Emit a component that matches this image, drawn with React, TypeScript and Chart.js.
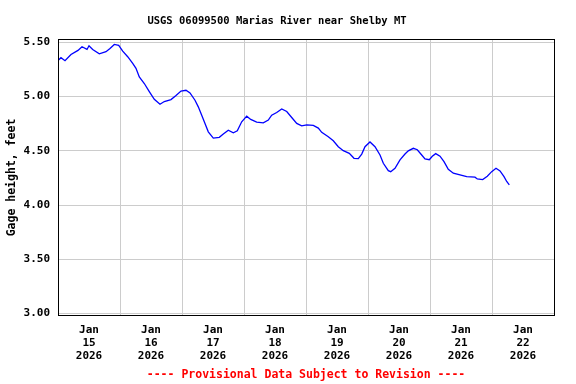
import { useEffect, useRef } from "react";
import { Chart, registerables } from "chart.js";

Chart.register(...registerables);

// Hours since Jan 15 2026 00:00 (local)
const hours = [
  0, 1.16, 2.71, 5.03, 7.74, 9.29, 11.23, 12.0, 13.43, 15.99, 18.58, 20.13, 21.79, 23.5,
  25.05, 26.98, 28.92, 30.19, 31.47, 33.41, 35.34, 37.28, 39.48, 41.15, 43.74, 45.68, 47.61,
  49.55, 51.1, 53.03, 54.31, 55.63, 56.9, 58.18, 60.12, 62.44, 63.99, 65.92, 67.86, 69.41,
  71.11, 73.05, 74.6, 76.92, 79.47, 81.41, 82.72, 84.66, 86.6, 88.54, 90.47, 92.41, 94.34,
  96.28, 98.83, 100.77, 102.08, 104.63, 106.57, 108.5, 110.44, 112.76, 114.58, 116.25,
  117.57, 118.84, 120.77, 122.71, 124.65, 125.93, 127.86, 128.79, 130.45, 132.39, 134.32,
  135.6, 137.54, 139.08, 140.79, 142.06, 143.73, 144.89, 146.21, 147.87, 149.42, 151.08,
  153.02, 155.61, 158.21, 161.42, 162.31, 164.4, 166.18, 167.88, 169.55, 171.1, 172.65,
  173.69, 174.7,
];

const gageFeet = [
  5.333, 5.358, 5.33, 5.388, 5.425, 5.459, 5.434, 5.468, 5.434, 5.394, 5.413, 5.443, 5.48, 5.471,
  5.418, 5.367, 5.305, 5.26, 5.18, 5.12, 5.046, 4.975, 4.929, 4.954, 4.972, 5.009, 5.05,
  5.058, 5.033, 4.966, 4.905, 4.828, 4.752, 4.675, 4.617, 4.624, 4.654, 4.69, 4.666, 4.684,
  4.767, 4.819, 4.789, 4.764, 4.758, 4.783, 4.828, 4.853, 4.886, 4.862, 4.807, 4.752, 4.73,
  4.739, 4.734, 4.709, 4.67, 4.63, 4.593, 4.538, 4.501, 4.477, 4.431, 4.428,
  4.47, 4.538, 4.581, 4.538, 4.461, 4.385, 4.317, 4.308, 4.339, 4.416, 4.47,
  4.5, 4.523, 4.51, 4.461, 4.425, 4.418, 4.45, 4.474, 4.45, 4.4, 4.33,
  4.294, 4.278, 4.262, 4.257, 4.241, 4.235, 4.266, 4.308, 4.339, 4.315, 4.262,
  4.217, 4.186,
];

const dayLabels = ["15", "16", "17", "18", "19", "20", "21", "22"];
const monthLabel = "Jan";
const yearLabel = "2026";
const yTicks = [3.0, 3.5, 4.0, 4.5, 5.0, 5.5];

const titleText = "USGS 06099500 Marias River near Shelby MT";
const yTitle = "Gage height, feet";
const footerText = "---- Provisional Data Subject to Revision ----";

const MONO = "'DejaVu Sans Mono', monospace";

const framePlugin = {
  id: "frame",
  afterDatasetsDraw(chart: any) {
    const { ctx, chartArea } = chart;
    ctx.save();
    ctx.strokeStyle = "#000000";
    ctx.lineWidth = 1;
    ctx.strokeRect(
      Math.round(chartArea.left) + 0.5,
      Math.round(chartArea.top) - 0.5,
      Math.round(chartArea.right - chartArea.left),
      Math.round(chartArea.bottom - chartArea.top) + 1
    );
    ctx.restore();
  },
};

export default function App() {
  const ref = useRef<HTMLCanvasElement | null>(null);

  useEffect(() => {
    if (!ref.current) return;
    const points = hours.map((h, i) => ({ x: h, y: gageFeet[i] }));
    const chart = new Chart(ref.current, {
      type: "line",
      data: {
        datasets: [
          {
            data: points,
            borderColor: "#0000ff",
            borderWidth: 1.3,
            pointRadius: 0,
            tension: 0,
            fill: false,
          },
        ],
      },
      options: {
        responsive: false,
        animation: false,
        events: [],
        layout: { padding: { left: 0, right: 22, top: 0, bottom: 0 } },
        plugins: {
          legend: { display: false },
          tooltip: { enabled: false },
          title: {
            display: true,
            text: titleText,
            color: "#000000",
            font: { family: MONO, size: 10.5, weight: "bold", lineHeight: 1.2 },
            padding: { top: 14.7, bottom: 12.7 },
          },
        },
        scales: {
          x: {
            type: "linear",
            min: 0,
            max: 192,
            border: { display: false },
            grid: {
              drawTicks: false,
              color: (c: any) =>
                c.tick && c.tick.value % 24 === 0 ? "#cccccc" : "rgba(0,0,0,0)",
              lineWidth: 1,
            },
            afterBuildTicks: (scale: any) => {
              const t = [];
              for (let v = 0; v <= 192; v += 12) t.push({ value: v });
              scale.ticks = t;
            },
            afterFit: (scale: any) => {
              scale.height = 69;
            },
            ticks: {
              autoSkip: false,
              maxRotation: 0,
              minRotation: 0,
              padding: 9,
              color: "#000000",
              font: { family: MONO, size: 11, weight: "bold", lineHeight: 1.18 },
              callback: (v: any) => {
                const n = Number(v);
                if (n % 24 !== 12) return "";
                const idx = Math.floor(n / 24);
                return [monthLabel, dayLabels[idx], yearLabel];
              },
            },
            title: {
              display: true,
              text: footerText,
              color: "#ff0000",
              font: { family: MONO, size: 11.5, weight: "bold", lineHeight: 1.2 },
              padding: { top: 0, bottom: 2.1 },
            },
          },
          y: {
            type: "linear",
            min: 2.987,
            max: 5.521,
            border: { display: false },
            grid: { drawTicks: false, color: "#cccccc", lineWidth: 1 },
            afterBuildTicks: (scale: any) => {
              scale.ticks = yTicks.map((v) => ({ value: v }));
            },
            afterFit: (scale: any) => {
              scale.width = 58;
            },
            ticks: {
              padding: 8,
              color: "#000000",
              font: { family: MONO, size: 11, weight: "bold" },
              callback: (v: any) => Number(v).toFixed(2),
            },
            title: {
              display: true,
              text: yTitle,
              color: "#000000",
              font: { family: MONO, size: 11.5, weight: "bold", lineHeight: 1.2 },
              padding: { top: 5.2, bottom: 0 },
            },
          },
        },
      },
      plugins: [framePlugin],
    });
    return () => chart.destroy();
  }, []);

  return (
    <div style={{ position: "absolute", left: 0, top: 0, width: 576, height: 384, background: "#ffffff" }}>
      <canvas ref={ref} width={576} height={384} />
    </div>
  );
}
